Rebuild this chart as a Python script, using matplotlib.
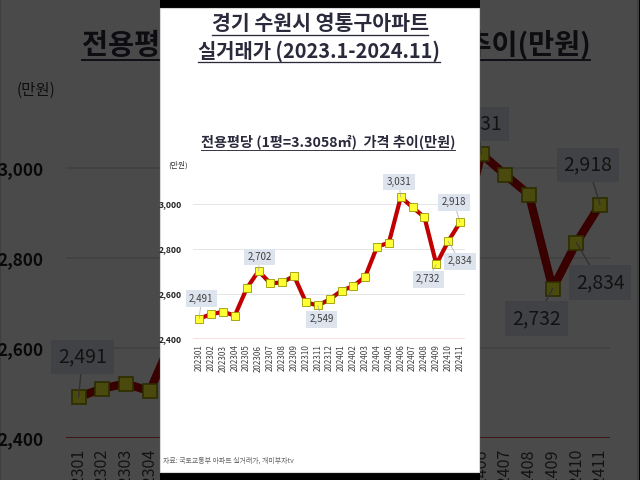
import matplotlib
matplotlib.use('Agg')
import matplotlib.pyplot as plt
from matplotlib.patches import Rectangle
from matplotlib.lines import Line2D

plt.rcParams['font.family'] = ['Noto Sans CJK KR', 'DejaVu Sans']

################################################################
months = ['202301', '202302', '202303', '202304', '202305', '202306',
          '202307', '202308', '202309', '202310', '202311', '202312',
          '202401', '202402', '202403', '202404', '202405', '202406',
          '202407', '202408', '202409', '202410', '202411']
prices = [2491, 2510, 2521, 2504, 2625, 2702, 2647, 2652, 2680, 2563, 2549, 2576,
          2615, 2635, 2677, 2810, 2828, 3031, 2985, 2941, 2732, 2834, 2918]
y_ticks = [2400, 2600, 2800, 3000]
title_1 = '경기 수원시 영통구아파트'
title_2 = '실거래가 (2023.1-2024.11)'
chart_title = '전용평당 (1평=3.3058㎡)  가격 추이(만원)'
unit_text = '(만원)'
source_text = '자료: 국토교통부 아파트 실거래가, 개미부자tv'

# which points carry a value box, and where the box sits (screen px: right, up)
label_offsets = {0: (2, 20), 5: (1, 14), 10: (4, -14), 17: (-2, 15),
                 20: (-8, -15), 21: (12, -20), 22: (-6, 20)}
################################################################

W, H = 640, 480
PT = 0.72  # points per pixel at dpi 100


def fx(px, s):
    return (320 + s * (px - 320)) / W


def fy(py, s):
    return 1 - (240 + s * (py - 240)) / H


def underlined_text(fig, renderer, x, y, txt, size, color, z, **kw):
    t = fig.text(x, y, txt, fontsize=size, color=color, ha='center', va='center',
                 zorder=z, **kw)
    bb = t.get_window_extent(renderer=renderer)
    fig.add_artist(Line2D([bb.x0 / W, bb.x1 / W], [(bb.y0 - 0.5) / H] * 2,
                          transform=fig.transFigure, color=color,
                          lw=size * 0.065, zorder=z))
    return t


def draw_panel(fig, s, z):
    renderer = fig.canvas.get_renderer()
    fig.add_artist(Rectangle((fx(160, s), fy(472, s)), s * 319 / W, s * 464 / H,
                             transform=fig.transFigure, facecolor='white',
                             edgecolor='#d8d8d8', lw=0.8 * s, zorder=z))
    dark = '#2a2a3c'
    underlined_text(fig, renderer, fx(320, s), fy(24, s), title_1, 14.8 * s, dark, z + 2,
                    fontweight='bold')
    underlined_text(fig, renderer, fx(319, s), fy(51, s), title_2, 14.3 * s, dark, z + 2,
                    fontweight='bold')
    underlined_text(fig, renderer, fx(328, s), fy(142, s), chart_title, 10.2 * s, dark,
                    z + 2, fontweight='bold')
    fig.text(fx(178, s), fy(165, s), unit_text, fontsize=5.6 * s, color='#333333',
             ha='center', va='center', zorder=z + 2)
    fig.text(fx(163, s), fy(461, s), source_text, fontsize=5.0 * s, color='#666666',
             ha='left', va='center', zorder=z + 2)

    ax = fig.add_axes([fx(193, s), fy(339, s), s * (465 - 193) / W, s * (339 - 181.5) / H])
    ax.set_zorder(z + 1)
    ax.patch.set_facecolor('none')
    x = list(range(len(months)))
    ax.plot(x, prices, color='#c00000', lw=3.0 * s, marker='s', ms=5.2 * s,
            mfc='#ffff33', mec='#9a9a00', mew=0.6 * s, zorder=3)
    ax.set_xlim(-0.53, len(months) - 1 + 0.42)
    ax.set_ylim(2400, 3100)
    ax.set_yticks(y_ticks)
    ax.set_yticklabels([f'{v:,}' for v in y_ticks], fontsize=6.2 * s,
                       fontweight='bold', color='#222222')
    ax.set_xticks(x)
    ax.set_xticklabels(months, rotation=90, fontsize=5.8 * s, color='#404040')
    ax.tick_params(axis='y', length=0, pad=8 * s)
    ax.tick_params(axis='x', length=0, pad=4 * s)
    for sp in ax.spines.values():
        sp.set_visible(False)
    for v in y_ticks[1:]:
        ax.axhline(v, color='#e0e0e0', lw=0.6 * s, zorder=1)
    ax.axhline(2400, color='#d01010', lw=0.9 * s, zorder=1)

    for i, (dx, up) in label_offsets.items():
        ax.annotate(f'{prices[i]:,}', xy=(i, prices[i]),
                    xytext=(dx * PT * s, up * PT * s), textcoords='offset points',
                    ha='center', va='center', fontsize=7.0 * s, color='#404040',
                    bbox=dict(boxstyle='square,pad=0.35', fc='#dde4ee', ec='none'),
                    arrowprops=dict(arrowstyle='-', color='#a8a8a8', lw=0.5 * s,
                                    shrinkA=0, shrinkB=0),
                    annotation_clip=False, zorder=5)
    return ax


fig = plt.figure(figsize=(6.4, 4.8), dpi=100, facecolor='black')

# blurred, enlarged copy behind
draw_panel(fig, 2.0, 0)
fig.add_artist(Rectangle((0, 0), 1, 1, transform=fig.transFigure,
                         facecolor='black', alpha=0.71, zorder=10))
# black bars above and below the centre panel
fig.add_artist(Rectangle((160 / W, 0), 320 / W, 1, transform=fig.transFigure,
                         facecolor='black', zorder=11))
# centre panel
draw_panel(fig, 1.0, 12)

fig.savefig('out.png', dpi=100, facecolor='black')
